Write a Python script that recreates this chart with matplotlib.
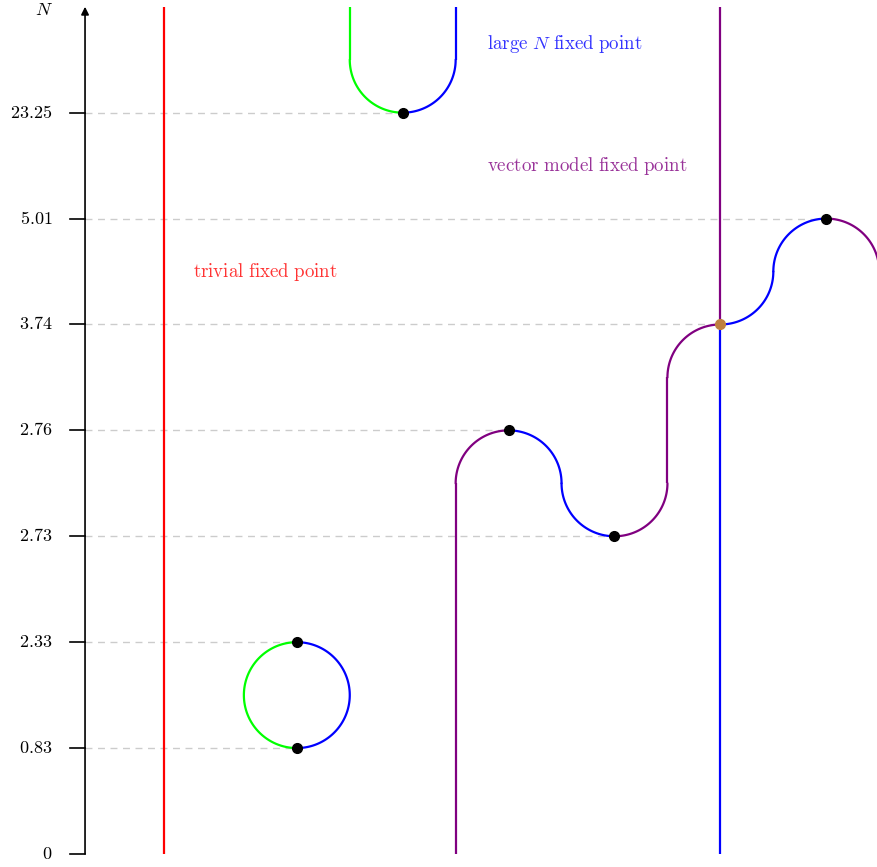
import numpy as np
import matplotlib.pyplot as plt
from matplotlib.patches import FancyArrowPatch

plt.rcParams['mathtext.fontset'] = 'cm'
plt.rcParams['font.family'] = 'serif'

# tick levels on the N axis (evenly spaced, labelled with the critical N values)
levels = [0, 1, 2, 3, 4, 5, 6, 7]
level_labels = ['0', '0.83', '2.33', '2.73', '2.76', '3.74', '5.01', '23.25']

# fixed-point collisions (x, level)
dots_x = [2, 2, 3, 4, 5, 7]
dots_y = [1, 2, 7, 4, 3, 6]
special_x, special_y = 6, 5

# straight branches: x, y0, y1, colour
lines = [
    (0.75, 0, 8, 'red'),
    (2.5, 7.5, 8, '#00ff00'),
    (3.5, 7.5, 8, 'blue'),
    (3.5, 0, 3.5, 'purple'),
    (5.5, 3.5, 4.5, 'purple'),
    (6, 0, 5, 'blue'),
    (6, 5, 8, 'purple'),
]

# arcs: centre x, centre y, angle from, angle to (deg), colour
arcs = [
    (2, 1.5, 90, 270, '#00ff00'),
    (2, 1.5, -90, 90, 'blue'),
    (3, 7.5, 180, 270, '#00ff00'),
    (3, 7.5, 270, 360, 'blue'),
    (4, 3.5, 180, 90, 'purple'),
    (4, 3.5, 90, 0, 'blue'),
    (5, 3.5, 180, 270, 'blue'),
    (5, 3.5, 270, 360, 'purple'),
    (6, 4.5, 180, 90, 'purple'),
    (6, 5.5, 270, 360, 'blue'),
    (7, 5.5, 180, 90, 'blue'),
    (7, 5.5, 90, 0, 'purple'),
]
radius = 0.5

fig = plt.figure(figsize=(8.77, 8.67), dpi=100)
ax = fig.add_axes([0, 0, 1, 1])
ax.set_xlim(-0.803, 7.479)
ax.set_ylim(-0.123, 8.064)
ax.axis('off')

# dashed guides from the axis to each fixed point
guide_x = {1: 2, 2: 2, 3: 5, 4: 4, 5: 6, 6: 7, 7: 3}
for lv in levels[1:]:
    ax.plot([0, guide_x[lv]], [lv, lv], color='#cccccc', lw=1, ls=(0, (5, 4)), zorder=1)

for x, y0, y1, c in lines:
    ax.plot([x, x], [y0, y1], color=c, lw=1.6, zorder=2, solid_capstyle='butt')

for cx, cy, a0, a1, c in arcs:
    t = np.radians(np.linspace(a0, a1, 80))
    ax.plot(cx + radius * np.cos(t), cy + radius * np.sin(t), color=c, lw=1.6, zorder=2,
            solid_capstyle='round')

ax.plot(dots_x, dots_y, 'o', color='black', ms=7, zorder=4)
ax.plot([special_x], [special_y], 'o', color='#bf8040', ms=7, zorder=4)

# N axis
ax.add_patch(FancyArrowPatch((0, 0), (0, 8), arrowstyle='-|>,head_length=3,head_width=1.5',
                             color='black', lw=1.2, mutation_scale=1.5, shrinkA=0, shrinkB=0))
for lv, lab in zip(levels, level_labels):
    ax.plot([-0.14, 0], [lv, lv], color='black', lw=1.2)
    ax.text(-0.31, lv, '$' + lab + '$', ha='right', va='center', fontsize=13)
ax.text(-0.39, 8.05, '$N$', ha='center', va='top', fontsize=13)

ax.text(1.02, 5.5, r'$\mathrm{trivial\ fixed\ point}$', color='red', alpha=0.8,
        ha='left', va='center', fontsize=13.6)
ax.text(3.8, 7.65, r'$\mathrm{large}\ N\ \mathrm{fixed\ point}$', color='blue', alpha=0.8,
        ha='left', va='center', fontsize=13.6)
ax.text(3.8, 6.5, r'$\mathrm{vector\ model\ fixed\ point}$', color='purple', alpha=0.8,
        ha='left', va='center', fontsize=13.6)

fig.savefig('out.png', dpi=100)
